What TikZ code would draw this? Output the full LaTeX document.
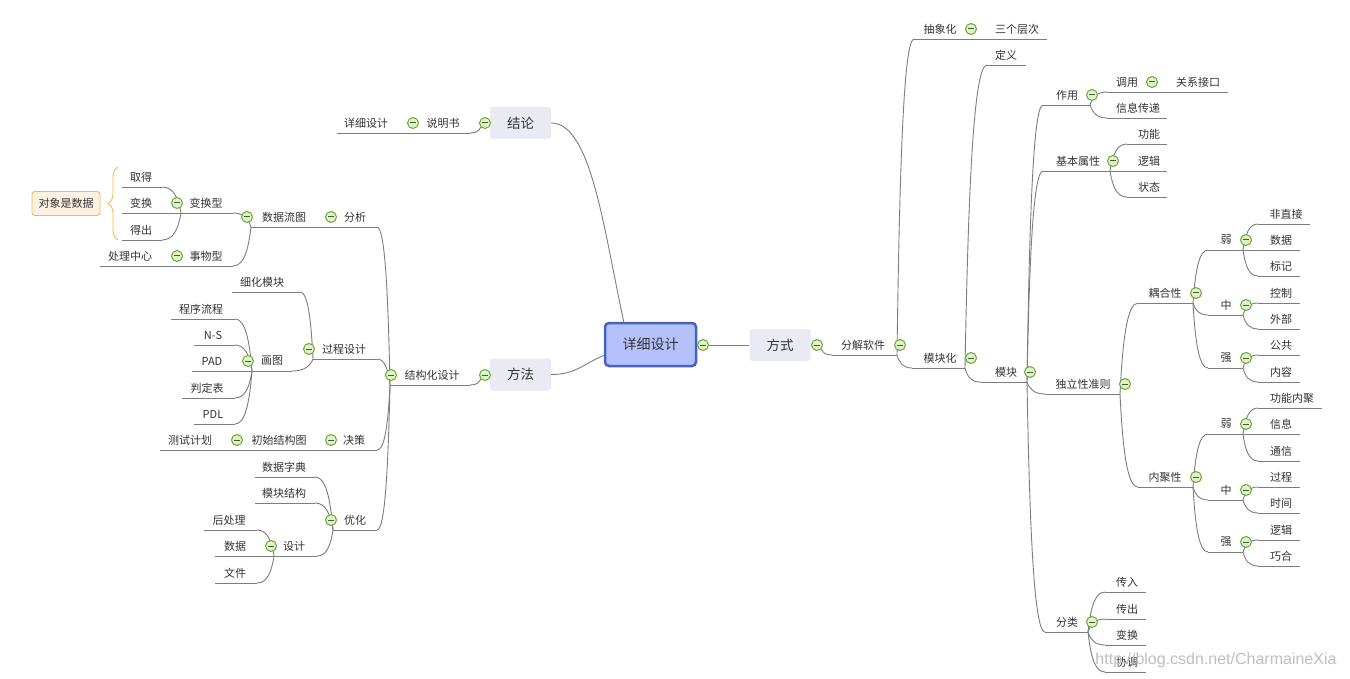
\documentclass[tikz,border=0pt]{standalone}
\usepackage{fontspec}
\setmainfont{Noto Sans CJK SC}
\newfontfamily\wmfont{Liberation Sans}
\usetikzlibrary{calc,decorations.pathreplacing}
\definecolor{linec}{RGB}{125,125,125}
\definecolor{txt}{RGB}{51,51,51}
\definecolor{cring}{RGB}{106,170,46}
\definecolor{cfill}{RGB}{224,242,204}
\definecolor{cminus}{RGB}{70,90,60}
\definecolor{rootfill}{RGB}{180,193,250}
\definecolor{rootdraw}{RGB}{72,96,192}
\definecolor{mainfill}{RGB}{233,234,242}
\definecolor{sumfill}{RGB}{253,241,226}
\definecolor{sumdraw}{RGB}{245,185,74}
\tikzset{
 lbl/.style={inner sep=0pt, text=txt, font=\fontsize{11}{13}\selectfont},
 ul/.style={draw=linec, line width=0.9pt},
 conn/.style={draw=linec, line width=0.9pt},
 cbtn/.style={circle, minimum size=11pt, inner sep=0pt, draw=cring, line width=1pt, fill=cfill,
   path picture={\draw[cminus, line width=1pt] ([xshift=-3pt]path picture bounding box.center) -- ([xshift=3pt]path picture bounding box.center);}},
 rootbox/.style={draw=rootdraw, line width=2.5pt, fill=rootfill, rounded corners=4pt, minimum width=91pt, minimum height=43pt, inner sep=0pt, text=txt, font=\fontsize{14}{16}\selectfont},
 mainbox/.style={fill=mainfill, rounded corners=3pt, minimum width=61pt, minimum height=32pt, inner sep=0pt, text=txt, font=\fontsize{13.5}{16}\selectfont},
 sumbox/.style={draw=sumdraw, fill=sumfill, line width=0.9pt, rounded corners=3pt, minimum width=68pt, minimum height=24pt, inner sep=0pt, text=txt, font=\fontsize{11}{13}\selectfont},
 brc/.style={draw=sumdraw, line width=0.9pt, decorate, decoration={brace, amplitude=10pt, aspect=0.5}},
 wm/.style={inner sep=0pt, text=black!25, font=\wmfont\fontsize{16}{18}\selectfont},
}
% name, text x, text y, inner x, outer x, label
\newcommand\mtopic[6]{%
  \node[lbl] (#1) at (#2,#3) {#6};
  \coordinate (#1-i) at (#4,{#3+10});
  \coordinate (#1-o) at (#5,{#3+10});
  \draw[ul] (#1-i) -- (#1-o);}
\newcommand\mbtn[3]{\node[cbtn] (#1) at (#2,#3) {};}
\newcommand\mconn[2]{\draw[conn] let \p1=(#1), \p2=(#2) in (\p1) .. controls ({\x1+0.15*(\x2-\x1)},{\y1+0.6*(\y2-\y1)}) and ({\x1+0.4*(\x2-\x1)},\y2) .. (\p2);}
\begin{document}
\begin{tikzpicture}[x=1pt,y=-1pt]
\useasboundingbox (0,0) rectangle (1350,679);
\fill[white] (0,0) rectangle (1350,679);
% ---------- main boxes ----------
\node[rootbox] (root) at (650.5,344.5) {详细设计};
\node[mainbox] (fs) at (780,345) {方式};
\node[mainbox] (jl) at (520.5,123) {结论};
\node[mainbox] (ff) at (520.5,374.5) {方法};
\draw[conn] (jl.east) .. controls +(40,0) and +(-20,-92) .. ([xshift=20pt]root.north west);
\draw[conn] (ff.east) .. controls +(25,0) and +(-20,8) .. ([yshift=-11pt]root.west);
\mbtn{c-root}{703}{345}
\draw[conn] (c-root.east) -- (fs.west);
\mbtn{c-fs}{817}{345}
\mbtn{c-jl}{485}{123}
\mbtn{c-ff}{485}{375}
% ---------- left: 结论 ----------
\mtopic{smj}{443}{123}{470}{405}{说明书}
\mtopic{xxsj}{366}{123}{405}{337}{详细设计}
\mconn{c-jl.south west}{smj-i}
\mconn{smj-o}{xxsj-i}
\mbtn{c-smj}{413}{123}
% ---------- left: 方法 ----------
\mtopic{jgh}{432}{375}{470}{390}{结构化设计}
\mconn{c-ff.south west}{jgh-i}
% 分析
\mtopic{fx}{355}{217}{377}{337}{分析}
\mconn{jgh-o}{fx-i}
\mtopic{sjlt}{284}{217}{337}{251}{数据流图}
\mconn{fx-o}{sjlt-i}
\mtopic{bhx}{206}{203}{233}{181}{变换型}
\mconn{sjlt-o}{bhx-i}
\mtopic{qd}{141}{177}{162}{122}{取得}
\mtopic{bh}{141}{203}{181}{122}{变换}
\mtopic{dc}{141}{230}{162}{122}{得出}
\mconn{bhx-o}{qd-i}
\mconn{bhx-o}{bh-i}
\mconn{bhx-o}{dc-i}
\mtopic{swx}{206}{256}{233}{160}{事物型}
\mconn{sjlt-o}{swx-i}
\mtopic{clzx}{130}{256}{160}{100}{处理中心}
\mconn{swx-o}{clzx-i}
\node[sumbox] (dxsj) at (66,203.5) {对象是数据};
\coordinate (br-t) at (118,167);
\coordinate (br-b) at (118,240);
\draw[brc] (br-b) -- (br-t);
% 过程设计
\mtopic{gcsj}{344}{349}{377}{313}{过程设计}
\mconn{jgh-o}{gcsj-i}
\mtopic{xhmk}{262}{282}{300}{232}{细化模块}
\mconn{gcsj-o}{xhmk-i}
\mtopic{ht}{272}{361}{292}{252}{画图}
\mconn{gcsj-o}{ht-i}
\mtopic{cxlc}{201}{309}{235}{171}{程序流程}
\mtopic{ns}{213}{335}{235}{194}{N-S}
\mtopic{pad}{212}{361}{252}{192}{PAD}
\mtopic{pdb}{207}{388}{235}{182}{判定表}
\mtopic{pdl}{213}{414}{235}{194}{PDL}
\mconn{ht-o}{cxlc-i}
\mconn{ht-o}{ns-i}
\mconn{ht-o}{pad-i}
\mconn{ht-o}{pdb-i}
\mconn{ht-o}{pdl-i}
% 决策
\mtopic{jc}{354}{440}{377}{341}{决策}
\mconn{jgh-o}{jc-i}
\mtopic{csjgt}{279}{440}{341}{245}{初始结构图}
\mconn{jc-o}{csjgt-i}
\mtopic{cshj}{190}{440}{245}{160}{测试计划}
\mconn{csjgt-o}{cshj-i}
% 优化
\mtopic{yh}{355}{520}{377}{333}{优化}
\mconn{jgh-o}{yh-i}
\mtopic{sjzd}{284}{467}{315}{255}{数据字典}
\mtopic{mkjg}{284}{493}{315}{255}{模块结构}
\mtopic{sj}{294}{546}{317}{274}{设计}
\mconn{yh-o}{sjzd-i}
\mconn{yh-o}{mkjg-i}
\mconn{yh-o}{sj-i}
\mtopic{hcl}{229}{520}{257}{204}{后处理}
\mtopic{sjdata}{235}{546}{274}{215}{数据}
\mtopic{wj}{235}{573}{257}{215}{文件}
\mconn{sj-o}{hcl-i}
\mconn{sj-o}{sjdata-i}
\mconn{sj-o}{wj-i}
% left buttons
\mbtn{c-jgh}{391}{375}
\mbtn{c-fx}{331}{217}
\mbtn{c-sjlt}{247}{217}
\mbtn{c-bhx}{177}{203}
\mbtn{c-swx}{177}{256}
\mbtn{c-gcsj}{309}{349}
\mbtn{c-ht}{248}{361}
\mbtn{c-jc}{331}{440}
\mbtn{c-csjgt}{237}{440}
\mbtn{c-yh}{331}{520}
\mbtn{c-sj}{271}{546}
% ---------- right: 方式 ----------
\mtopic{fjrj}{863}{345}{832}{897}{分解软件}
\mconn{c-fs.south east}{fjrj-i}
\mtopic{cxh}{940}{29}{914}{962}{抽象化}
\mtopic{sgcc}{1017}{29}{962}{1047}{三个层次}
\mconn{fjrj-o}{cxh-i}
\mconn{cxh-o}{sgcc-i}
\mtopic{mkh}{940}{358}{912}{965}{模块化}
\mconn{fjrj-o}{mkh-i}
\mtopic{dy}{1006}{55}{987}{1026}{定义}
\mtopic{mk}{1006}{372}{980}{1027}{模块}
\mconn{mkh-o}{dy-i}
\mconn{mkh-o}{mk-i}
% 作用
\mtopic{zy}{1067}{95}{1043}{1090}{作用}
\mconn{mk-o}{zy-i}
\mtopic{dyy}{1127}{82}{1107}{1165}{调用}
\mtopic{gxjk}{1198}{82}{1165}{1228}{关系接口}
\mtopic{xxcd}{1138}{108}{1107}{1167}{信息传递}
\mconn{zy-o}{dyy-i}
\mconn{zy-o}{xxcd-i}
\mconn{dyy-o}{gxjk-i}
% 基本属性
\mtopic{jbsx}{1078}{161}{1043}{1110}{基本属性}
\mconn{mk-o}{jbsx-i}
\mtopic{gn}{1149}{134}{1127}{1167}{功能}
\mtopic{lj}{1149}{161}{1110}{1167}{逻辑}
\mtopic{zt}{1149}{187}{1127}{1167}{状态}
\mconn{jbsx-o}{gn-i}
\mconn{jbsx-o}{lj-i}
\mconn{jbsx-o}{zt-i}
% 独立性准则
\mtopic{dlx}{1083}{384}{1045}{1120}{独立性准则}
\mconn{mk-o}{dlx-i}
\mtopic{ohx}{1165}{293}{1138}{1193}{耦合性}
\mconn{dlx-o}{ohx-i}
\mtopic{oR}{1226}{240}{1208}{1243}{弱}
\mtopic{oZ}{1226}{305}{1208}{1243}{中}
\mtopic{oQ}{1226}{358}{1208}{1243}{强}
\mconn{ohx-o}{oR-i}
\mconn{ohx-o}{oZ-i}
\mconn{ohx-o}{oQ-i}
\mtopic{fzj}{1286}{214}{1258}{1310}{非直接}
\mtopic{osj}{1281}{240}{1243}{1300}{数据}
\mtopic{obj}{1281}{266}{1258}{1300}{标记}
\mconn{oR-o}{fzj-i}
\mconn{oR-o}{osj-i}
\mconn{oR-o}{obj-i}
\mtopic{kz}{1281}{293}{1258}{1300}{控制}
\mtopic{wb}{1281}{319}{1258}{1300}{外部}
\mconn{oZ-o}{kz-i}
\mconn{oZ-o}{wb-i}
\mtopic{gg}{1281}{345}{1258}{1300}{公共}
\mtopic{nr}{1281}{372}{1258}{1300}{内容}
\mconn{oQ-o}{gg-i}
\mconn{oQ-o}{nr-i}
\mtopic{njx}{1165}{477}{1138}{1193}{内聚性}
\mconn{dlx-o}{njx-i}
\mtopic{nR}{1226}{424}{1208}{1243}{弱}
\mtopic{nZ}{1226}{490}{1208}{1243}{中}
\mtopic{nQ}{1226}{542}{1208}{1243}{强}
\mconn{njx-o}{nR-i}
\mconn{njx-o}{nZ-i}
\mconn{njx-o}{nQ-i}
\mtopic{gnnj}{1292}{398}{1258}{1322}{功能内聚}
\mtopic{xx}{1281}{424}{1243}{1300}{信息}
\mtopic{tx}{1281}{451}{1258}{1300}{通信}
\mconn{nR-o}{gnnj-i}
\mconn{nR-o}{xx-i}
\mconn{nR-o}{tx-i}
\mtopic{gc}{1281}{477}{1258}{1300}{过程}
\mtopic{sjj}{1281}{503}{1258}{1300}{时间}
\mconn{nZ-o}{gc-i}
\mconn{nZ-o}{sjj-i}
\mtopic{lj2}{1281}{530}{1258}{1300}{逻辑}
\mtopic{qh}{1281}{556}{1258}{1300}{巧合}
\mconn{nQ-o}{lj2-i}
\mconn{nQ-o}{qh-i}
% 分类
\mtopic{fl}{1067}{622}{1045}{1088}{分类}
\mconn{mk-o}{fl-i}
\mtopic{cr}{1127}{582}{1105}{1146}{传入}
\mtopic{cc}{1127}{609}{1105}{1146}{传出}
\mtopic{bh2}{1127}{635}{1105}{1146}{变换}
\mtopic{xt}{1127}{662}{1105}{1146}{协调}
\mconn{fl-o}{cr-i}
\mconn{fl-o}{cc-i}
\mconn{fl-o}{bh2-i}
\mconn{fl-o}{xt-i}
% right buttons
\mbtn{c-fjrj}{900}{345}
\mbtn{c-cxh}{971}{29}
\mbtn{c-mkh}{971}{358}
\mbtn{c-mk}{1030}{372}
\mbtn{c-zy}{1092}{95}
\mbtn{c-dyy}{1152}{82}
\mbtn{c-jbsx}{1113}{161}
\mbtn{c-dlx}{1125}{384}
\mbtn{c-ohx}{1196}{293}
\mbtn{c-oR}{1246}{240}
\mbtn{c-oZ}{1246}{305}
\mbtn{c-oQ}{1246}{358}
\mbtn{c-njx}{1196}{477}
\mbtn{c-nR}{1246}{424}
\mbtn{c-nZ}{1246}{490}
\mbtn{c-nQ}{1246}{542}
\mbtn{c-fl}{1092}{622}
% watermark
\node[wm] (wmark) at (1216,660) {http://blog.csdn.net/CharmaineXia};
\end{tikzpicture}
\end{document}
